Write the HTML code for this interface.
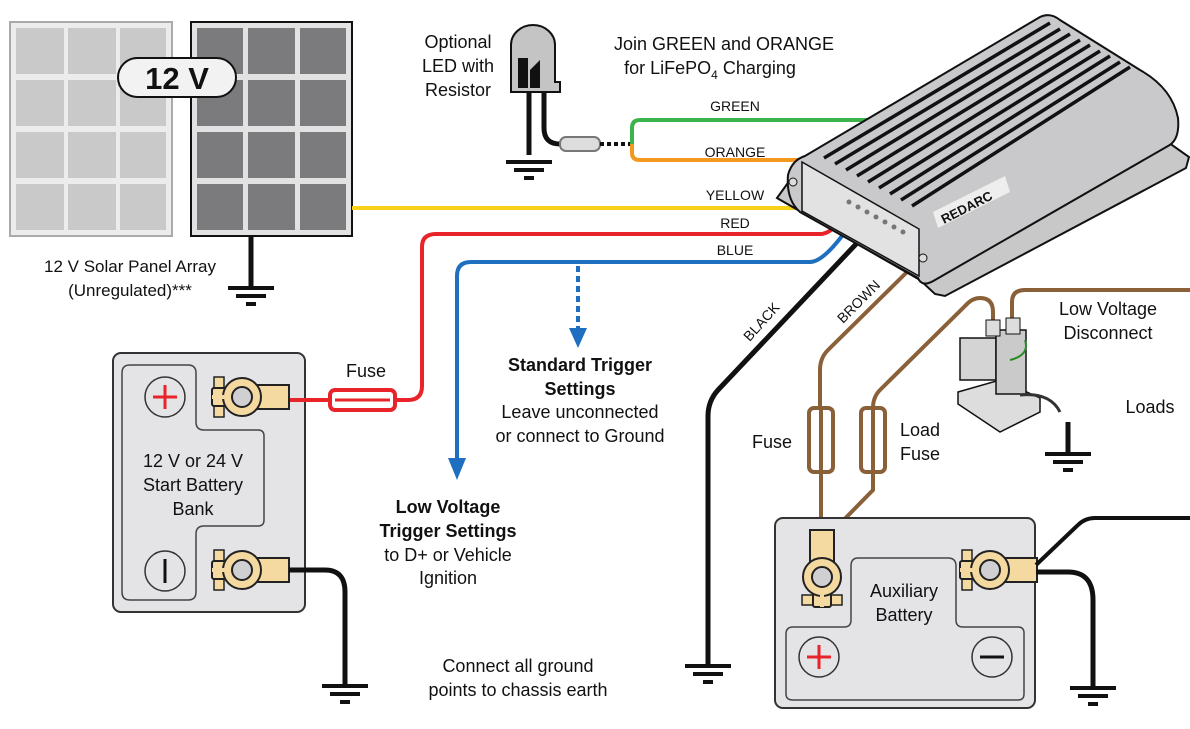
<!DOCTYPE html>
<html><head><meta charset="utf-8"><style>
body{margin:0;background:#fff}
svg{display:block}
text{font-family:"Liberation Sans",Arial,sans-serif;fill:#111}
</style></head><body>
<svg width="1190" height="729" viewBox="0 0 1190 729" xmlns="http://www.w3.org/2000/svg">
<defs>
<g id="gnd"><rect x="-23" y="0" width="46" height="4" fill="#111"/><rect x="-15" y="8" width="30" height="4" fill="#111"/><rect x="-5" y="16" width="10" height="4" fill="#111"/></g>
<g id="lug">
<rect x="14" y="-12" width="33" height="24" fill="#f4d9a0" stroke="#222" stroke-width="2"/>
<rect x="-28" y="-20" width="10" height="12" fill="#f4d9a0" stroke="#222" stroke-width="1.5"/>
<rect x="-28" y="8" width="10" height="12" fill="#f4d9a0" stroke="#222" stroke-width="1.5"/>
<rect x="-30" y="-9" width="16" height="18" rx="2" fill="#f4d9a0" stroke="#222" stroke-width="2"/>
<circle cx="0" cy="0" r="19" fill="#f4d9a0" stroke="#222" stroke-width="2"/>
<rect x="-30" y="-2" width="14" height="4" fill="#f4d9a0"/>
<circle cx="0" cy="0" r="10" fill="#d0d0d2" stroke="#222" stroke-width="2"/>
</g>
</defs>

<!-- Solar panels -->
<rect x="10" y="22" width="162" height="214" fill="#ececec" stroke="#aaa" stroke-width="2"/>
<g fill="#c9c9c9">
<rect x="16" y="28" width="48" height="46"/><rect x="68" y="28" width="48" height="46"/><rect x="120" y="28" width="46" height="46"/>
<rect x="16" y="80" width="48" height="46"/><rect x="68" y="80" width="48" height="46"/><rect x="120" y="80" width="46" height="46"/>
<rect x="16" y="132" width="48" height="46"/><rect x="68" y="132" width="48" height="46"/><rect x="120" y="132" width="46" height="46"/>
<rect x="16" y="184" width="48" height="46"/><rect x="68" y="184" width="48" height="46"/><rect x="120" y="184" width="46" height="46"/>
</g>
<rect x="191" y="22" width="161" height="214" fill="#e2e2e2" stroke="#111" stroke-width="2"/>
<g fill="#7b7b7d">
<rect x="197" y="28" width="46" height="46"/><rect x="248" y="28" width="47" height="46"/><rect x="300" y="28" width="46" height="46"/>
<rect x="197" y="80" width="46" height="46"/><rect x="248" y="80" width="47" height="46"/><rect x="300" y="80" width="46" height="46"/>
<rect x="197" y="132" width="46" height="46"/><rect x="248" y="132" width="47" height="46"/><rect x="300" y="132" width="46" height="46"/>
<rect x="197" y="184" width="46" height="46"/><rect x="248" y="184" width="47" height="46"/><rect x="300" y="184" width="46" height="46"/>
</g>
<rect x="118" y="58" width="118" height="39" rx="19.5" fill="#f2f2f2" stroke="#111" stroke-width="2"/>
<text x="177" y="89" font-size="31" font-weight="bold" text-anchor="middle">12 V</text>
<line x1="251" y1="236" x2="251" y2="288" stroke="#111" stroke-width="5"/>
<use href="#gnd" x="251" y="286"/>
<text x="130" y="272" font-size="17" text-anchor="middle">12 V Solar Panel Array</text>
<text x="130" y="296" font-size="17" text-anchor="middle">(Unregulated)***</text>

<!-- LED -->
<text x="458" y="48" font-size="18" text-anchor="middle">Optional</text>
<text x="458" y="72" font-size="18" text-anchor="middle">LED with</text>
<text x="458" y="96" font-size="18" text-anchor="middle">Resistor</text>
<path d="M511,92 V45 A22,20 0 0 1 555,45 V82 H560 V92 Z" fill="#c4c4c4" stroke="#111" stroke-width="2"/>
<path d="M518,58 H528 V88 H518 Z M530,70 L540,60 V88 H530 Z" fill="#111"/>
<line x1="529" y1="92" x2="529" y2="155" stroke="#111" stroke-width="5"/>
<path d="M544,92 V128 Q544,144 560,144" fill="none" stroke="#111" stroke-width="5"/>
<use href="#gnd" x="529" y="160"/>
<rect x="560" y="137" width="40" height="14" rx="6" fill="#ddd" stroke="#777" stroke-width="2"/>
<line x1="600" y1="144" x2="630" y2="144" stroke="#111" stroke-width="4" stroke-dasharray="4,3"/>

<text x="724" y="50" font-size="18" text-anchor="middle">Join GREEN and ORANGE</text>
<text x="710" y="74" font-size="18" text-anchor="middle">for LiFePO<tspan font-size="12" dy="5">4</tspan><tspan dy="-5"> Charging</tspan></text>

<!-- wires -->
<path d="M632,144 V128 Q632,120 640,120 H870" fill="none" stroke="#3cb44b" stroke-width="4"/>
<path d="M632,144 V153 Q632,160 640,160 H810" fill="none" stroke="#f39a1e" stroke-width="4"/>
<line x1="352" y1="208" x2="800" y2="208" stroke="#f7d117" stroke-width="4"/>
<path d="M395,400 H408 Q422,400 422,386 V247 Q422,234 436,234 H820 Q830,234 838,222" fill="none" stroke="#e8232a" stroke-width="4"/>
<path d="M457,460 V276 Q457,262 471,262 H810 Q822,262 842,236" fill="none" stroke="#1f6fc1" stroke-width="4"/>
<polygon points="448,458 466,458 457,480" fill="#1f6fc1"/>
<line x1="578" y1="266" x2="578" y2="330" stroke="#1f6fc1" stroke-width="4" stroke-dasharray="6,4"/>
<polygon points="569,328 587,328 578,348" fill="#1f6fc1"/>
<g font-size="14" text-anchor="middle">
<text x="735" y="111" fill="#555">GREEN</text><text x="735" y="157" fill="#555">ORANGE</text>
<text x="735" y="200" fill="#555">YELLOW</text><text x="735" y="228" fill="#555">RED</text><text x="735" y="255" fill="#555">BLUE</text>
</g>

<!-- black & brown -->
<path d="M858,242 L718,390 Q708,401 708,416 V664" fill="none" stroke="#111" stroke-width="5"/>
<use href="#gnd" x="708" y="664"/>
<text x="765" y="325" font-size="14" fill="#555" transform="rotate(-48 765 325)" text-anchor="middle">BLACK</text>
<path d="M907,272 L828,350 Q820,358 820,370 V408" fill="none" stroke="#8a6039" stroke-width="4"/>
<path d="M993,322 V312 Q993,298 980,298 Q972,298 965,306 L880,390 Q873,397 873,408" fill="none" stroke="#8a6039" stroke-width="4"/>
<path d="M1012,320 V302 Q1012,290 1025,290 H1190" fill="none" stroke="#8a6039" stroke-width="4"/>
<text x="862" y="305" font-size="14" fill="#555" transform="rotate(-45 862 305)" text-anchor="middle">BROWN</text>
<rect x="809" y="408" width="24" height="64" rx="5" fill="#fff" stroke="#8a6039" stroke-width="4"/>
<line x1="821" y1="408" x2="821" y2="540" stroke="#8a6039" stroke-width="4"/>
<rect x="861" y="408" width="24" height="64" rx="5" fill="#fff" stroke="#8a6039" stroke-width="4"/>
<line x1="873" y1="408" x2="873" y2="472" stroke="#8a6039" stroke-width="4"/>
<path d="M873,472 V490 L828,536" fill="none" stroke="#8a6039" stroke-width="4"/>
<text x="772" y="448" font-size="18" text-anchor="middle">Fuse</text>
<text x="920" y="436" font-size="18" text-anchor="middle">Load</text>
<text x="920" y="460" font-size="18" text-anchor="middle">Fuse</text>

<!-- Charger -->
<path d="M777,198 L790,180 L1165,140 L1189,157 L1186,168 L945,296 L935,294 L920,280 Z" fill="#c8c8c8" stroke="#111" stroke-width="2"/>
<path d="M788,175 Q792,160 805,156 L1040,17 Q1050,12 1060,20 L1140,70 Q1172,88 1178,118 Q1180,140 1168,146 L935,280 Q922,288 918,278 L800,212 Q786,200 788,175 Z" fill="#c9c9cb" stroke="#111" stroke-width="2"/>
<g stroke="#111" stroke-width="3.5">
<line x1="824" y1="158" x2="1050" y2="23"/>
<line x1="835" y1="164" x2="1060" y2="29"/>
<line x1="846" y1="170" x2="1070" y2="34"/>
<line x1="857" y1="176" x2="1080" y2="40"/>
<line x1="868" y1="182" x2="1090" y2="45"/>
<line x1="879" y1="188" x2="1100" y2="51"/>
<line x1="890" y1="194" x2="1110" y2="56"/>
<line x1="901" y1="200" x2="1120" y2="62"/>
<line x1="912" y1="206" x2="1130" y2="67"/>
</g>
<path d="M802,162 L919,229 V276 L802,211 Z" fill="#e2e2e2" stroke="#111" stroke-width="1.5"/>
<g fill="#777"><circle cx="849" cy="202" r="2.5"/><circle cx="858" cy="207" r="2.5"/><circle cx="867" cy="212" r="2.5"/><circle cx="876" cy="217" r="2.5"/><circle cx="885" cy="222" r="2.5"/><circle cx="894" cy="227" r="2.5"/><circle cx="903" cy="232" r="2.5"/></g>
<polygon points="933,212 1005,176 1010,192 938,228" fill="#eee"/>
<text x="944" y="224" font-size="13" font-weight="bold" fill="#aaa" transform="rotate(-27 944 224)">REDARC</text>
<circle cx="793" cy="182" r="4" fill="#ddd" stroke="#111"/><circle cx="923" cy="258" r="4" fill="#ddd" stroke="#111"/>

<!-- LVD -->
<text x="1108" y="315" font-size="18" text-anchor="middle">Low Voltage</text>
<text x="1108" y="339" font-size="18" text-anchor="middle">Disconnect</text>
<text x="1150" y="413" font-size="18" text-anchor="middle">Loads</text>
<path d="M958,392 L1000,380 L1040,398 L1040,412 L1000,432 L958,404 Z" fill="#ddd" stroke="#111" stroke-width="1.5"/>
<rect x="960" y="338" width="36" height="42" fill="#d4d4d4" stroke="#111" stroke-width="1.5"/>
<rect x="996" y="330" width="30" height="64" fill="#cacaca" stroke="#111" stroke-width="1.5"/>
<rect x="986" y="320" width="14" height="16" fill="#ddd" stroke="#111"/>
<rect x="1006" y="318" width="14" height="16" fill="#ddd" stroke="#111"/>
<path d="M1025,340 Q1030,355 1010,360" fill="none" stroke="#2a8a2a" stroke-width="2"/>
<path d="M1020,395 Q1050,392 1060,412" fill="none" stroke="#333" stroke-width="3"/>
<line x1="1068" y1="422" x2="1068" y2="452" stroke="#111" stroke-width="5"/>
<use href="#gnd" x="1068" y="452"/>

<!-- Start battery -->
<rect x="113" y="353" width="192" height="259" rx="8" fill="#e4e4e6" stroke="#333" stroke-width="2"/>
<path d="M130,365 H188 Q196,365 196,373 V422 Q196,430 204,430 H258 Q264,430 264,436 V520 Q264,526 258,526 H204 Q196,526 196,534 V592 Q196,600 188,600 H130 Q122,600 122,592 V373 Q122,365 130,365 Z" fill="none" stroke="#444" stroke-width="1.5"/>
<circle cx="165" cy="397" r="20" fill="none" stroke="#333" stroke-width="1.5"/>
<path d="M153,397 H177 M165,385 V409" stroke="#e8232a" stroke-width="3"/>
<circle cx="165" cy="571" r="20" fill="none" stroke="#333" stroke-width="1.5"/>
<line x1="165" y1="559" x2="165" y2="583" stroke="#111" stroke-width="3"/>
<text x="193" y="467" font-size="18" text-anchor="middle">12 V or 24 V</text>
<text x="193" y="491" font-size="18" text-anchor="middle">Start Battery</text>
<text x="193" y="515" font-size="18" text-anchor="middle">Bank</text>
<line x1="288" y1="400" x2="330" y2="400" stroke="#e8232a" stroke-width="4"/>
<rect x="330" y="390" width="65" height="20" rx="5" fill="#fff" stroke="#e8232a" stroke-width="4"/>
<line x1="335" y1="400" x2="390" y2="400" stroke="#e8232a" stroke-width="3"/>
<text x="366" y="377" font-size="18" text-anchor="middle">Fuse</text>
<use href="#lug" x="242" y="397"/>
<use href="#lug" x="242" y="570"/>
<path d="M289,570 H325 Q345,570 345,592 V686" fill="none" stroke="#111" stroke-width="5"/>
<use href="#gnd" x="345" y="684"/>

<!-- texts middle -->
<g font-size="18" text-anchor="middle">
<text x="580" y="371" font-weight="bold">Standard Trigger</text>
<text x="580" y="395" font-weight="bold">Settings</text>
<text x="580" y="418">Leave unconnected</text>
<text x="580" y="442">or connect to Ground</text>
<text x="448" y="513" font-weight="bold">Low Voltage</text>
<text x="448" y="537" font-weight="bold">Trigger Settings</text>
<text x="448" y="561">to D+ or Vehicle</text>
<text x="448" y="584">Ignition</text>
<text x="518" y="672">Connect all ground</text>
<text x="518" y="696">points to chassis earth</text>
</g>

<!-- Aux battery -->
<rect x="775" y="518" width="260" height="190" rx="8" fill="#e4e4e6" stroke="#333" stroke-width="2"/>
<path d="M858,558 H948 Q956,558 956,566 V620 Q956,627 963,627 H1018 Q1024,627 1024,633 V694 Q1024,700 1018,700 H793 Q786,700 786,694 V634 Q786,627 793,627 H844 Q851,627 851,620 V566 Q851,558 858,558 Z" fill="none" stroke="#444" stroke-width="1.5"/>
<circle cx="819" cy="657" r="20" fill="none" stroke="#333" stroke-width="1.5"/>
<path d="M807,657 H831 M819,645 V669" stroke="#e8232a" stroke-width="3"/>
<circle cx="992" cy="657" r="20" fill="none" stroke="#333" stroke-width="1.5"/>
<line x1="980" y1="657" x2="1004" y2="657" stroke="#111" stroke-width="3"/>
<text x="904" y="597" font-size="18" text-anchor="middle">Auxiliary</text>
<text x="904" y="621" font-size="18" text-anchor="middle">Battery</text>
<use href="#lug" transform="translate(822 577) rotate(-90)"/>
<use href="#lug" x="990" y="570"/>
<path d="M1036,565 L1078,525 Q1085,518 1095,518 H1190" fill="none" stroke="#111" stroke-width="4"/>
<path d="M1036,572 H1068 Q1093,572 1093,600 V688" fill="none" stroke="#111" stroke-width="5"/>
<use href="#gnd" x="1093" y="686"/>
</svg>
</body></html>
